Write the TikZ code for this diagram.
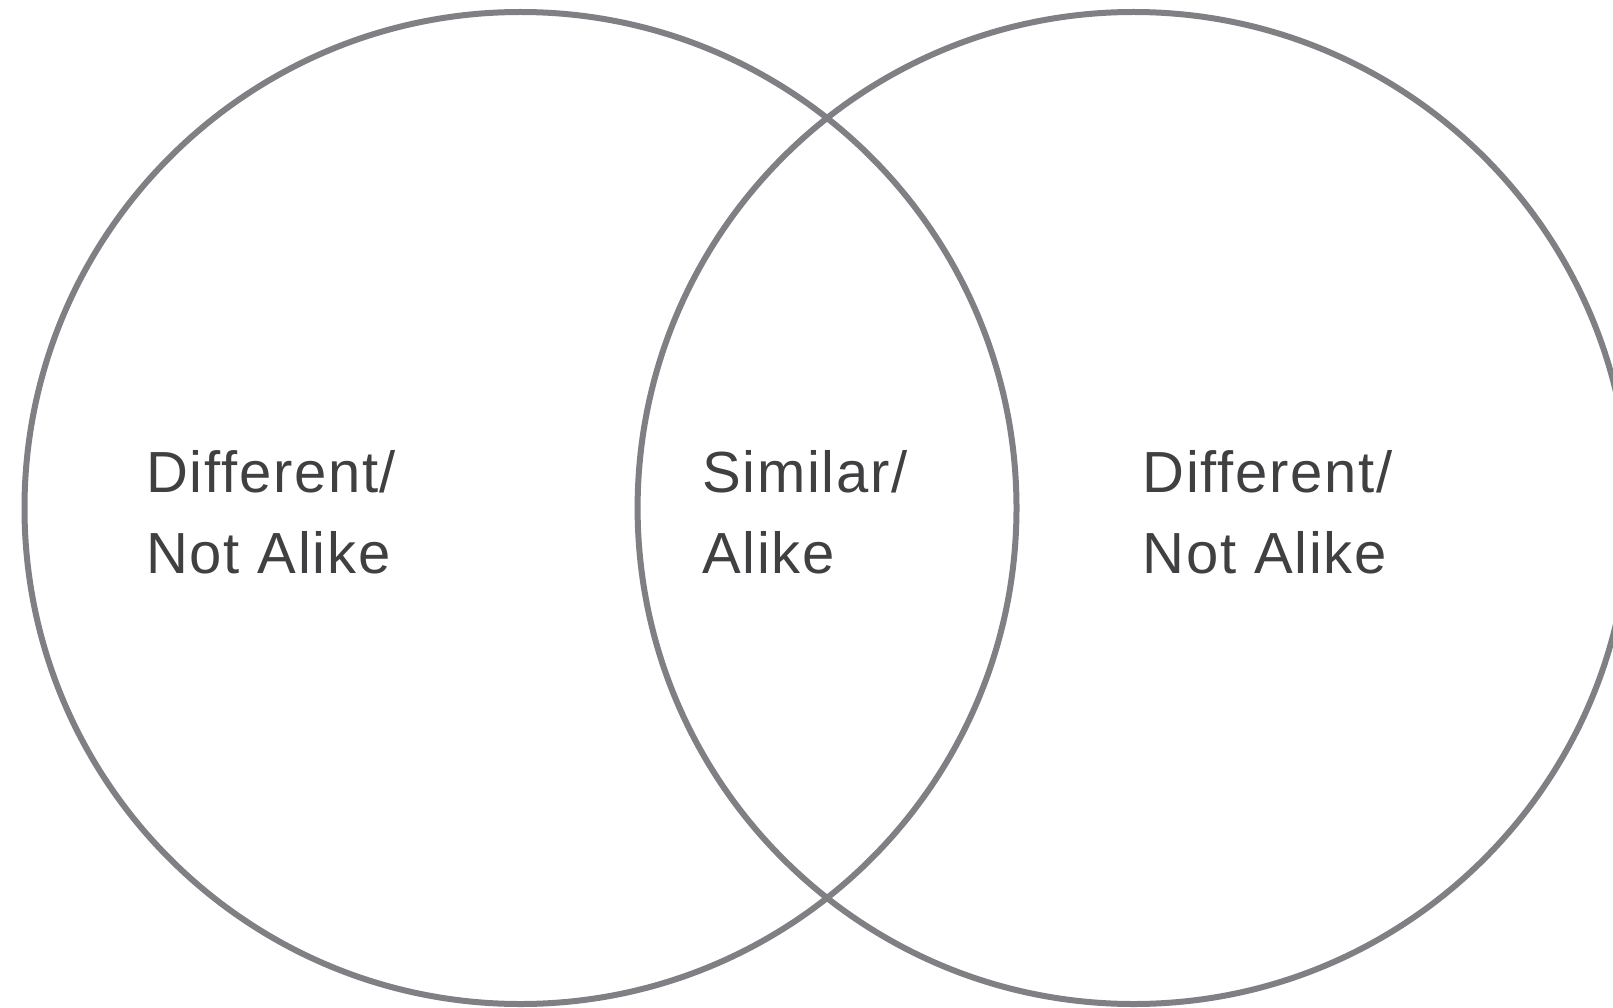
\documentclass[tikz,border=0pt]{standalone}
\usepackage{fontspec}
\newfontfamily\labfont[LetterSpace=3]{Liberation Sans}
\definecolor{ringgray}{RGB}{128,128,132}
\definecolor{textgray}{RGB}{64,64,66}
\begin{document}
\begin{tikzpicture}[x=1pt,y=-1pt,
  ring/.style={draw=ringgray,line width=6pt},
  lab/.style={anchor=base west,inner sep=0pt,align=left,text=textgray,
    font=\labfont\fontsize{58}{81}\selectfont}]
\useasboundingbox (0,0) rectangle (1613,1008);
\clip (0,0) rectangle (1613,1008);
\fill[white] (0,0) rectangle (1613,1008);
\draw[ring] (520.5,508) circle[radius=496];
\draw[ring] (1133.6,508) circle[radius=496];
\node[lab] (left) at (146,573.5) {Different/\\Not Alike};
\node[lab] (mid) at (702,573.5) {Similar/\\Alike};
\node[lab] (right) at (1142.5,573.5) {Different/\\Not Alike};
\end{tikzpicture}
\end{document}
